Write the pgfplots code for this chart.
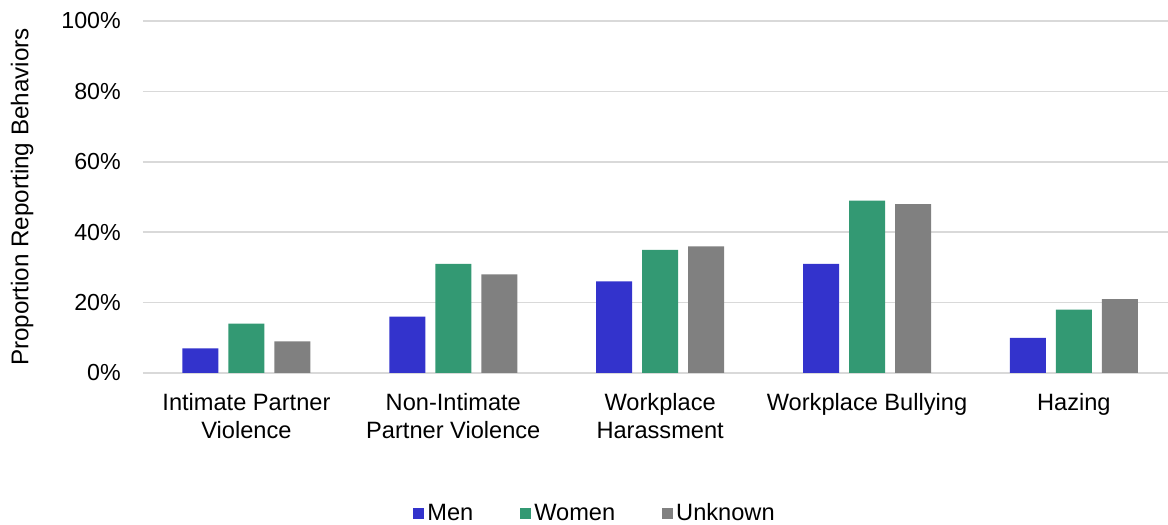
\documentclass[border=0pt]{standalone}
\usepackage{pgfplots}
\pgfplotsset{compat=1.18}
\usepackage{fontspec}
\setmainfont{Liberation Sans}
\definecolor{men}{RGB}{51,51,204}
\definecolor{women}{RGB}{51,153,115}
\definecolor{unknown}{RGB}{128,128,128}
\definecolor{gridc}{RGB}{217,217,217}
\begin{document}
\fontsize{23.5}{28}\selectfont
\begin{tikzpicture}
\begin{axis}[
    width=1025bp, height=352bp, scale only axis,
    ybar=10bp, bar width=36bp,
    xmin=-0.5, xmax=4.455, ymin=0, ymax=100,
    xtick=data,
    xticklabels={{Intimate Partner\\Violence},{Non-Intimate\\Partner Violence},{Workplace\\Harassment},{Workplace Bullying},{Hazing}},
    xticklabel style={align=center, inner sep=0pt, yshift=-20bp, font=\fontsize{23.7}{28}\selectfont},
    ytick={0,20,...,100},
    yticklabel={\pgfmathprintnumber{\tick}\%},
    yticklabel style={inner sep=0pt, xshift=-22bp, font=\fontsize{23.3}{28}\selectfont},
    /pgf/number format/assume math mode=true,
    major tick length=0pt,
    axis line style={draw=none},
    ymajorgrids, grid style={gridc, line width=1.5bp},
    ylabel={Proportion Reporting Behaviors},
    ylabel style={at={(axis description cs:-0.118,0.5)}, anchor=center, font=\fontsize{24.3}{28}\selectfont},
    legend columns=3,
    legend style={at={(axis description cs:0.4415,-0.40)}, anchor=center, draw=none, fill=none,
        font=\fontsize{23.7}{28}\selectfont, inner sep=0pt,
        nodes={inner xsep=3bp, inner ysep=0pt},
        /tikz/every even column/.append style={column sep=44bp}},
    legend image code/.code={\fill[#1] (0bp,-5.5bp) rectangle (11bp,5.5bp);},
]
\addplot[fill=men, draw=none] coordinates {(0,7) (1,16) (2,26) (3,31) (4,10)};
\addlegendentry{Men}
\addplot[fill=women, draw=none] coordinates {(0,14) (1,31) (2,35) (3,49) (4,18)};
\addlegendentry{Women}
\addplot[fill=unknown, draw=none] coordinates {(0,9) (1,28) (2,36) (3,48) (4,21)};
\addlegendentry{Unknown}
\end{axis}
\pgfresetboundingbox
\path[use as bounding box] ([xshift=-143bp,yshift=-152bp]current axis.south west) rectangle ([yshift=21bp]current axis.north east);
\end{tikzpicture}
\end{document}
